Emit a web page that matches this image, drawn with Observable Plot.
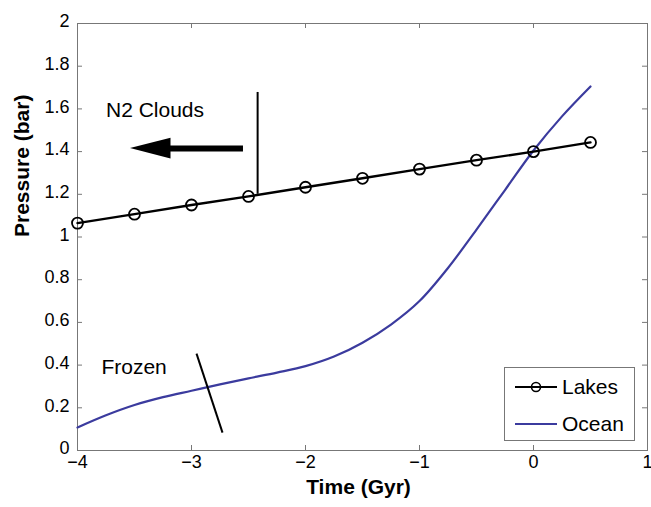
<!DOCTYPE html>
<html><head><meta charset="utf-8">
<script src="https://cdn.jsdelivr.net/npm/d3@7"></script>
<script src="https://cdn.jsdelivr.net/npm/@observablehq/plot@0.6"></script>
<style>
body{margin:0;background:#fff;font-family:"Liberation Sans",Arial,sans-serif;}
#wrap{position:relative;width:651px;height:507px;}
#legend{position:absolute;left:504px;top:367px;width:131px;height:74px;border:1px solid #777;background:#fff;box-sizing:border-box;}
#legend .row{position:absolute;left:0;height:30px;display:flex;align-items:center;font-size:21px;color:#000;}
</style></head><body><div id="wrap"></div>
<script>
// Data
const lakesTime = [-4, -3.5, -3, -2.5, -2, -1.5, -1, -0.5, 0, 0.5];
const lakesPressure = [1.065, 1.107, 1.15, 1.19, 1.233, 1.275, 1.318, 1.36, 1.40, 1.443];
const oceanTime = [-4, -3.75, -3.5, -3.25, -3, -2.75, -2.5, -2.25, -2, -1.75, -1.5, -1.25, -1, -0.75, -0.5, -0.25, 0, 0.25, 0.5];
const oceanPressure = [0.108, 0.165, 0.213, 0.25, 0.28, 0.31, 0.338, 0.365, 0.395, 0.44, 0.505, 0.59, 0.70, 0.855, 1.035, 1.22, 1.405, 1.565, 1.705];
const xTicks = [-4, -3, -2, -1, 0, 1];
const xTickLabels = ["−4", "−3", "−2", "−1", "0", "1"];
const yTicks = [0, 0.2, 0.4, 0.6, 0.8, 1, 1.2, 1.4, 1.6, 1.8, 2];
const yTickLabels = ["0", "0.2", "0.4", "0.6", "0.8", "1", "1.2", "1.4", "1.6", "1.8", "2"];
const seriesNames = ["Lakes", "Ocean"];
const xLabel = "Time (Gyr)";
const yLabel = "Pressure (bar)";
// Annotations (data coordinates)
const cloudsLabel = {text: "N2 Clouds", x: -3.75, y: 1.595};
const cloudsMarker = {x: -2.42, y1: 1.20, y2: 1.677};
const arrowShaft = {y: 1.414, x1: -3.22, x2: -2.544};
const arrowHeadX = [-3.535, -3.18];
const arrowHeadY1 = [1.414, 1.365];
const arrowHeadY2 = [1.414, 1.463];
const frozenLabel = {text: "Frozen", x: -3.79, y: 0.39};
const frozenMarker = {x1: -2.956, y1: 0.454, x2: -2.728, y2: 0.084};

const lakes = lakesTime.map((t, i) => ({t, p: lakesPressure[i]}));
const ocean = oceanTime.map((t, i) => ({t, p: oceanPressure[i]}));
const head = arrowHeadX.map((x, i) => ({x, y1: arrowHeadY1[i], y2: arrowHeadY2[i]}));

const oceanColor = "#3b3b9e";
const gray = "#777";
const W = 651, H = 507, mL = 77, mR = 4, mT = 23, mB = 57;
const fw = W - mL - mR, fh = H - mT - mB, tk = 5;
const innerX = xTicks.slice(1, -1), innerY = yTicks.slice(1, -1);

const chart = Plot.plot({
  width: W, height: H,
  marginLeft: mL, marginRight: mR, marginTop: mT, marginBottom: mB,
  style: {fontFamily: "Liberation Sans, Arial, sans-serif", background: "#fff", color: "#000", overflow: "visible"},
  x: {domain: [-4, 1]},
  y: {domain: [0, 2]},
  marks: [
    Plot.frame({stroke: gray}),
    Plot.tickX(innerX, {x: d => d, stroke: gray, insetTop: fh - tk}),
    Plot.tickX(innerX, {x: d => d, stroke: gray, insetBottom: fh - tk}),
    Plot.tickY(innerY, {y: d => d, stroke: gray, insetRight: fw - tk}),
    Plot.tickY(innerY, {y: d => d, stroke: gray, insetLeft: fw - tk}),
    Plot.axisX({ticks: xTicks, tickSize: 0, tickPadding: 5, fontSize: 18, label: null,
      tickFormat: d => xTickLabels[xTicks.indexOf(d)]}),
    Plot.axisY({ticks: yTicks, tickSize: 0, tickPadding: 8, fontSize: 18, label: null, dy: -2,
      tickFormat: d => yTickLabels[yTicks.findIndex(v => Math.abs(v - d) < 1e-9)]}),
    Plot.text([xLabel], {frameAnchor: "bottom", dy: 43, dx: -4, fontSize: 21, fontWeight: "bold"}),
    Plot.text([yLabel], {frameAnchor: "left", dx: -55, rotate: -90, fontSize: 21, fontWeight: "bold"}),
    Plot.line(ocean, {x: "t", y: "p", stroke: oceanColor, strokeWidth: 2.2, curve: "catmull-rom"}),
    Plot.line(lakes, {x: "t", y: "p", stroke: "#000", strokeWidth: 2.4}),
    Plot.dot(lakes, {x: "t", y: "p", r: 5.5, stroke: "#000", strokeWidth: 1.8, fill: "none"}),
    Plot.text([cloudsLabel], {x: "x", y: "y", text: "text", textAnchor: "start", fontSize: 21}),
    Plot.ruleX([cloudsMarker], {x: "x", y1: "y1", y2: "y2", stroke: "#000", strokeWidth: 2}),
    Plot.ruleY([arrowShaft], {y: "y", x1: "x1", x2: "x2", stroke: "#000", strokeWidth: 6}),
    Plot.areaY(head, {x: "x", y1: "y1", y2: "y2", fill: "#000"}),
    Plot.text([frozenLabel], {x: "x", y: "y", text: "text", textAnchor: "start", fontSize: 21}),
    Plot.link([frozenMarker], {x1: "x1", y1: "y1", x2: "x2", y2: "y2", stroke: "#000", strokeWidth: 2})
  ]
});
const wrap = document.getElementById("wrap");
wrap.appendChild(chart);

const legend = document.createElement("div");
legend.id = "legend";
legend.innerHTML = `
<div class="row" style="top:4px"><svg width="56" height="30"><line x1="10" x2="52" y1="15" y2="15" stroke="#000" stroke-width="2.2"/><circle cx="31" cy="15" r="4.5" fill="none" stroke="#000" stroke-width="1.6"/></svg><span style="margin-left:1px">${seriesNames[0]}</span></div>
<div class="row" style="top:41px"><svg width="56" height="30"><line x1="10" x2="52" y1="15" y2="15" stroke="${oceanColor}" stroke-width="2.2"/></svg><span style="margin-left:1px">${seriesNames[1]}</span></div>`;
wrap.appendChild(legend);
</script>
</body></html>
